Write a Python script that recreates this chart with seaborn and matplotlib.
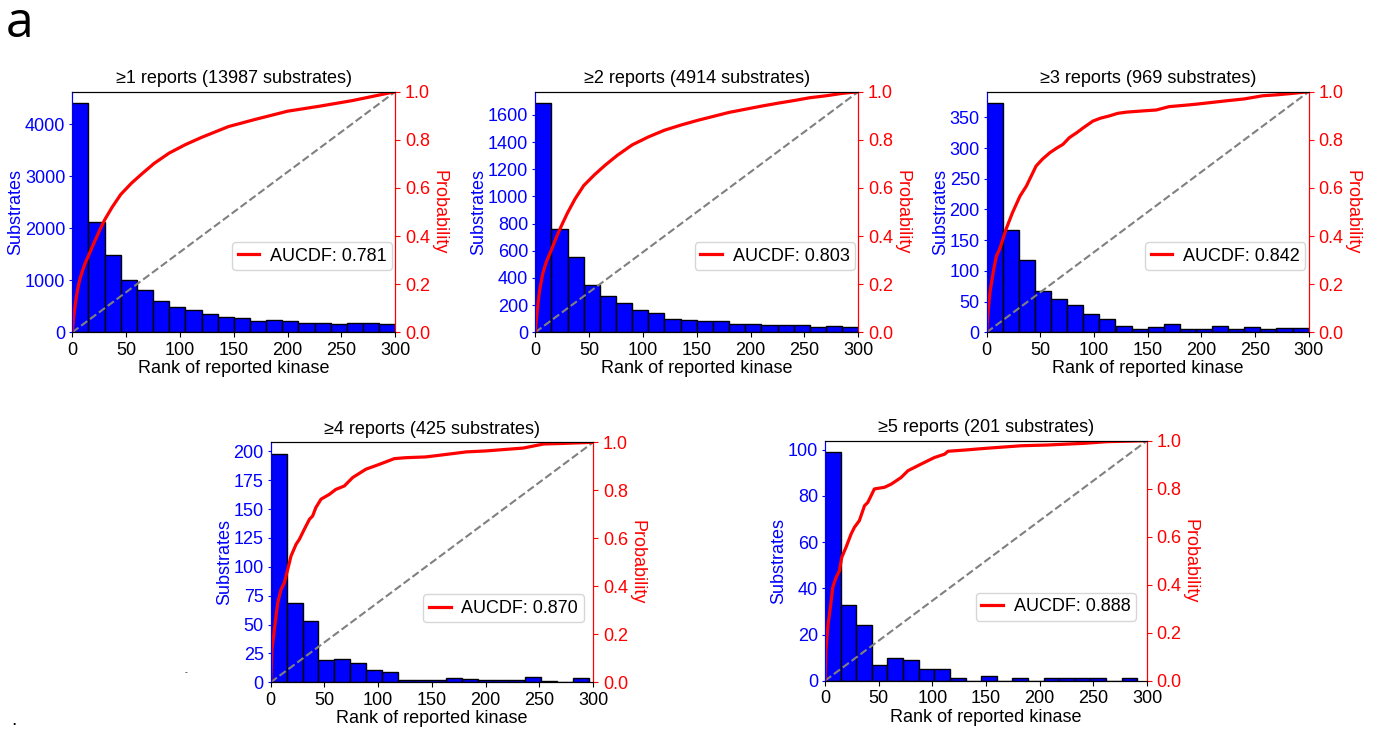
import numpy as np
import pandas as pd
import matplotlib
matplotlib.use("Agg")
import matplotlib.pyplot as plt
import seaborn as sns

plt.rcParams['font.family'] = ['Liberation Sans', 'DejaVu Sans']

# データ
titles = ["≥1 reports (13987 substrates)", "≥2 reports (4914 substrates)",
          "≥3 reports (969 substrates)", "≥4 reports (425 substrates)",
          "≥5 reports (201 substrates)"]
aucdf = [0.781, 0.803, 0.842, 0.870, 0.888]
rank_max = [300, 300, 300, 296, 291]   # 最大ランク (ヒストグラムの範囲)

counts_1 = [4404, 2128, 1481, 1000, 808, 596, 487, 423, 346, 301,
            269, 218, 237, 212, 186, 173, 154, 179, 173, 160]
counts_2 = [1686, 758, 555, 346, 267, 216, 162, 140, 101, 93,
            86, 83, 64, 64, 56, 56, 56, 42, 49, 39]
counts_3 = [373, 167, 117, 67, 55, 45, 30, 22, 10, 5,
            8, 14, 6, 6, 11, 6, 8, 5, 7, 7]
counts_4 = [198, 69, 53, 19, 20, 17, 11, 9, 2, 2,
            2, 4, 3, 2, 2, 2, 5, 1, 0, 4]
counts_5 = [99, 33, 24, 7, 10, 9, 5, 5, 1, 0,
            2, 0, 1, 0, 1, 1, 1, 1, 0, 1]

cdf_rank_1 = [0, 1, 2, 3, 5, 7, 9, 12, 15, 20, 25, 30, 37, 45, 55, 65, 76, 90,
              105, 120, 145, 170, 200, 230, 260, 300]
cdf_prob_1 = [0, 0.05, 0.09, 0.125, 0.18, 0.22, 0.25, 0.288, 0.318, 0.37, 0.42,
              0.467, 0.52, 0.573, 0.62, 0.66, 0.702, 0.745, 0.78, 0.81, 0.855,
              0.885, 0.919, 0.94, 0.963, 1.0]
cdf_rank_2 = [0, 1, 2, 4, 7, 10, 15, 20, 25, 30, 37, 45, 55, 65, 76, 90, 105,
              120, 135, 150, 165, 180, 195, 210, 225, 240, 255, 270, 285, 300]
cdf_prob_2 = [0, 0.055, 0.1, 0.175, 0.245, 0.29, 0.343, 0.40, 0.45, 0.497, 0.555,
              0.61, 0.655, 0.695, 0.735, 0.779, 0.812, 0.84, 0.861, 0.88, 0.897,
              0.914, 0.927, 0.94, 0.952, 0.963, 0.975, 0.983, 0.993, 1.0]
cdf_rank_3 = [0, 1, 3, 6, 9, 12, 15, 18, 24, 31, 37, 46, 52, 59, 65, 71, 77, 84,
              90, 99, 106, 114, 122, 130, 145, 158, 170, 183, 195, 211, 225, 240,
              257, 270, 285, 300]
cdf_prob_3 = [0, 0.07, 0.165, 0.248, 0.317, 0.345, 0.386, 0.428, 0.497, 0.566,
              0.608, 0.691, 0.72, 0.747, 0.765, 0.781, 0.809, 0.83, 0.85, 0.878,
              0.89, 0.899, 0.91, 0.915, 0.92, 0.924, 0.938, 0.943, 0.948, 0.956,
              0.963, 0.97, 0.983, 0.987, 0.993, 1.0]
cdf_rank_4 = [0, 1.2, 3.4, 6.5, 9.6, 12.7, 15.8, 18.9, 23.6, 26.7, 31.3, 36, 39,
              42, 46.8, 54.5, 60.7, 68.5, 76.2, 88.6, 101, 115, 126, 144, 157,
              182, 200, 235, 245, 254, 270, 300]
cdf_prob_4 = [0, 0.14, 0.22, 0.33, 0.387, 0.415, 0.47, 0.526, 0.575, 0.596,
              0.638, 0.679, 0.693, 0.728, 0.763, 0.783, 0.804, 0.818, 0.853,
              0.888, 0.908, 0.932, 0.936, 0.939, 0.946, 0.96, 0.964, 0.976,
              0.985, 0.993, 0.995, 1.0]
cdf_rank_5 = [0, 0.9, 2.5, 5, 7.2, 10.3, 13.4, 15.6, 19.6, 24.3, 27.4, 32, 36.8,
              39.9, 46, 55.5, 61.7, 71, 77.3, 89.7, 102, 111.5, 114.6, 130, 152,
              183, 207, 241, 263, 300]
cdf_prob_5 = [0, 0.125, 0.222, 0.306, 0.389, 0.43, 0.458, 0.514, 0.556, 0.611,
              0.639, 0.667, 0.729, 0.743, 0.799, 0.806, 0.819, 0.847, 0.875,
              0.903, 0.93, 0.944, 0.956, 0.961, 0.969, 0.979, 0.982, 0.989,
              0.996, 1.0]

ref_rank = [0, 300]   # ランダム基準線
ref_prob = [0, 1]

all_counts = [counts_1, counts_2, counts_3, counts_4, counts_5]
all_rank = [cdf_rank_1, cdf_rank_2, cdf_rank_3, cdf_rank_4, cdf_rank_5]
all_prob = [cdf_prob_1, cdf_prob_2, cdf_prob_3, cdf_prob_4, cdf_prob_5]

# 左軸の目盛り間隔
y_step = [1000, 200, 50, 25, 20]

# レイアウト (ピクセル: 左, 上, 幅, 高さ)
W, H = 1381, 729
rects_px = [(72.3, 91.7, 323, 240.6), (535.3, 91.7, 323, 240.6),
            (986.7, 91.7, 322, 240.6), (270.7, 442.3, 322.5, 240),
            (825, 440.7, 322, 240)]
legend_y = [0.317, 0.317, 0.317, 0.308, 0.308]
legend_x = [0.99, 0.99, 0.99, 0.97, 0.965]

fig = plt.figure(figsize=(W / 100, H / 100), dpi=100)

for i in range(5):
    l, t, w, h = rects_px[i]
    ax = fig.add_axes([l / W, 1 - (t + h) / H, w / W, h / H])
    edges = np.linspace(0, rank_max[i], 21)
    df = pd.DataFrame({"rank": (edges[:-1] + edges[1:]) / 2,
                       "count": all_counts[i]})
    sns.histplot(data=df, x="rank", weights="count", bins=list(edges),
                 color="blue", edgecolor="black", linewidth=1, alpha=1, ax=ax)
    ax.set_xlim(0, 300)
    ax.set_xticks([0, 50, 100, 150, 200, 250, 300])
    ymax = ax.get_ylim()[1]
    ax.set_yticks(np.arange(0, ymax, y_step[i]))
    ax.set_ylim(0, ymax)
    ax.set_xlabel("Rank of reported kinase", fontsize=13, labelpad=1)
    ax.set_ylabel("Substrates", fontsize=13, color="blue", labelpad=0.5)
    ax.tick_params(axis="x", labelsize=13)
    ax.tick_params(axis="y", labelsize=13, colors="blue", length=2.5, pad=2.5)
    ax.set_title(titles[i], fontsize=13)

    ax2 = ax.twinx()
    sns.lineplot(x=ref_rank, y=ref_prob, ax=ax2, color="gray", linestyle="--",
                 linewidth=1.5, estimator=None)
    sns.lineplot(x=all_rank[i], y=all_prob[i], ax=ax2, color="red",
                 linewidth=2.3, estimator=None, sort=False,
                 label=f"AUCDF: {aucdf[i]:.3f}")
    ax2.set_ylim(0, 1)
    ax2.set_xlim(0, 300)
    ax2.set_yticks([0, 0.2, 0.4, 0.6, 0.8, 1.0])
    ax2.tick_params(axis="y", labelsize=13, colors="red")
    ax2.set_ylabel("Probability", fontsize=13, color="red", rotation=270,
                   va="bottom", labelpad=0)
    ax2.legend(loc="center right", bbox_to_anchor=(legend_x[i], legend_y[i]),
               fontsize=13, borderaxespad=0, handlelength=1.2,
               handletextpad=0.6, borderpad=0.3)
    for a in (ax, ax2):
        a.spines["left"].set_color("blue")
        a.spines["right"].set_color("red")

fig.text(0.004, 1 - 37 / H, "a", fontsize=36, va="baseline",
         family=["Open Sans", "DejaVu Sans"])
fig.text(185 / W, 1 - 673 / H, "-", fontsize=6, va="center")
fig.text(11 / W, 0, ".", fontsize=14, va="bottom")

fig.savefig("out.png", dpi=100)
